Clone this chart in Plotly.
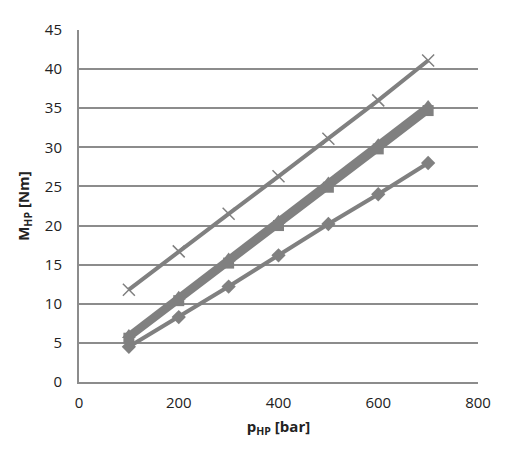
import plotly.graph_objects as go

p_hp = [100, 200, 300, 400, 500, 600, 700]
m_cross = [11.8, 16.7, 21.5, 26.3, 31.1, 36.0, 41.1]
m_triangle = [6.0, 10.9, 15.8, 20.6, 25.5, 30.4, 35.3]
m_square = [5.6, 10.4, 15.2, 20.0, 24.9, 29.8, 34.7]
m_diamond = [4.5, 8.3, 12.2, 16.2, 20.2, 24.0, 28.0]

col = "#808080"
fig = go.Figure()
fig.add_trace(go.Scatter(x=p_hp, y=m_cross, mode="lines+markers",
                         line=dict(color=col, width=4),
                         marker=dict(symbol="x-thin", size=12, line=dict(color=col, width=1.5))))
fig.add_trace(go.Scatter(x=p_hp, y=m_triangle, mode="lines+markers",
                         line=dict(color=col, width=6),
                         marker=dict(symbol="triangle-up", size=12, color=col)))
fig.add_trace(go.Scatter(x=p_hp, y=m_square, mode="lines+markers",
                         line=dict(color=col, width=6),
                         marker=dict(symbol="square", size=11, color=col)))
fig.add_trace(go.Scatter(x=p_hp, y=m_diamond, mode="lines+markers",
                         line=dict(color=col, width=4),
                         marker=dict(symbol="diamond", size=11, color=col)))

fig.update_layout(
    width=501, height=444,
    margin=dict(l=71, r=31, t=11, b=70),
    paper_bgcolor="white", plot_bgcolor="white",
    showlegend=False,
    font=dict(family="Open Sans", size=15, color="#222222"),
    xaxis=dict(range=[0, 800], tickvals=[0, 200, 400, 600, 800], showgrid=False,
               showline=True, linecolor="#8c8c8c", linewidth=2, zeroline=False,
               ticks="", ticklen=0, ticklabelstandoff=6,
               title=dict(text="<b>p<sub>HP</sub> [bar]</b>", font=dict(size=15), standoff=10)),
    yaxis=dict(range=[0, 45], tickvals=list(range(0, 46, 5)), showgrid=True,
               gridcolor="#8c8c8c", gridwidth=2,
               showline=True, linecolor="#8c8c8c", linewidth=2, zeroline=False,
               ticks="", ticklen=0, ticklabelstandoff=12,
               title=dict(text="<b>M<sub>HP</sub> [Nm]</b>", font=dict(size=15), standoff=12)),
)
fig.write_html("out.html")
